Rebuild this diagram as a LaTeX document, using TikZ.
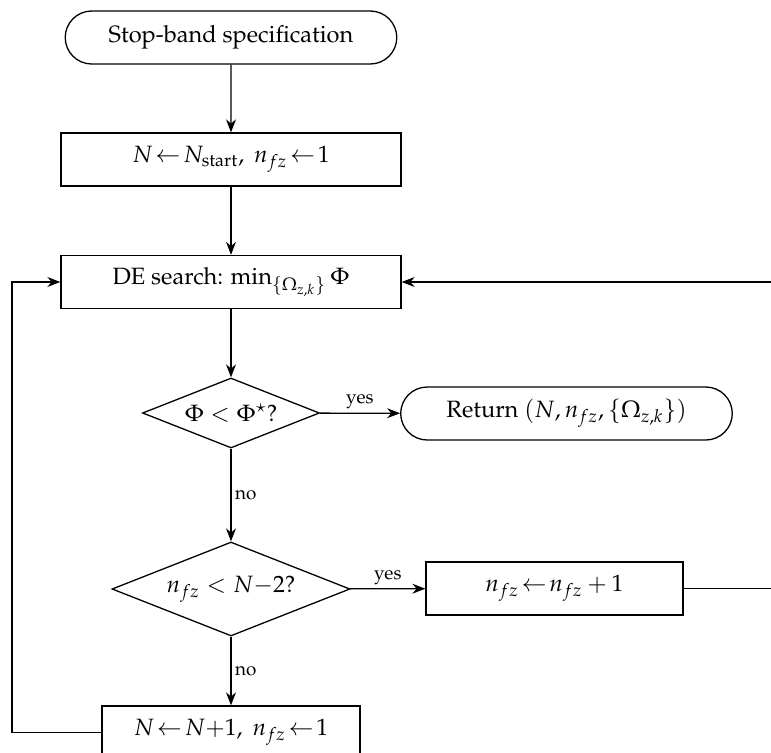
\documentclass[tikz,border=0pt]{standalone}
\usepackage[T1]{fontenc}
\usepackage{mathpazo}
\usetikzlibrary{shapes.geometric,shapes.misc,arrows.meta}
\def\k{0.4237}
\tikzset{
  base/.style={draw, line width=0.55pt, inner sep=2pt, align=center},
  procbox/.style={base, rectangle, minimum height={53*\k*1pt}},
  termbox/.style={base, rounded rectangle, minimum height={53*\k*1pt}},
  decbox/.style={base, diamond, aspect=2.53, inner sep=0pt},
  arr/.style={line width=0.55pt, -{Stealth[length=5.5pt,width=4.2pt,inset=1.8pt]}},
  lab/.style={font=\footnotesize, inner sep=1.5pt}
}
\begin{document}
\begin{tikzpicture}[x=\k pt, y=-\k pt]
\path[use as bounding box, clip] (0,0) rectangle (771,753);
\node[termbox, minimum width={341*\k*1pt}] (start) at (231,37.5) {Stop-band specification};
\node[procbox, minimum width={340*\k*1pt}] (init) at (231,159.5) {$N\!\leftarrow\!N_{\mathrm{start}},\ n_{fz}\!\leftarrow\!1$};
\node[procbox, minimum width={340*\k*1pt}] (de) at (231,282) {DE search: $\min_{\{\Omega_{z,k}\}}\Phi$};
\node[decbox, minimum width={177*\k*1pt}, minimum height={70*\k*1pt}] (d1) at (231,413) {$\Phi<\Phi^{\star}$?};
\node[termbox, minimum width={341*\k*1pt}] (ret) at (566.5,413.5) {Return $(N,n_{fz},\{\Omega_{z,k}\})$};
\node[decbox, minimum width={238*\k*1pt}, minimum height={94*\k*1pt}] (d2) at (231,589) {$n_{fz}<N{-}2$?};
\node[procbox, minimum width={257*\k*1pt}] (inc) at (554.5,588.5) {$n_{fz}\!\leftarrow\!n_{fz}+1$};
\node[procbox, minimum width={258*\k*1pt}] (upd) at (231,732.5) {$N\!\leftarrow\!N{+}1,\ n_{fz}\!\leftarrow\!1$};
\coordinate (rc) at (800,282);
\coordinate (lc) at (12,282);
\draw[arr] (start) -- (init);
\draw[arr] (init) -- (de);
\draw[arr] (de) -- (d1);
\draw[arr] (d1) -- node[lab, above] {yes} (ret);
\draw[arr] (d1) -- node[lab, right] {no} (d2);
\draw[arr] (d2) -- node[lab, above] {yes} (inc);
\draw[arr] (d2) -- node[lab, right] {no} (upd);
\draw[arr] (inc.east) -| (rc) -- (de.east);
\draw[arr] (upd.west) -| (lc) -- (de.west);
\end{tikzpicture}
\end{document}
